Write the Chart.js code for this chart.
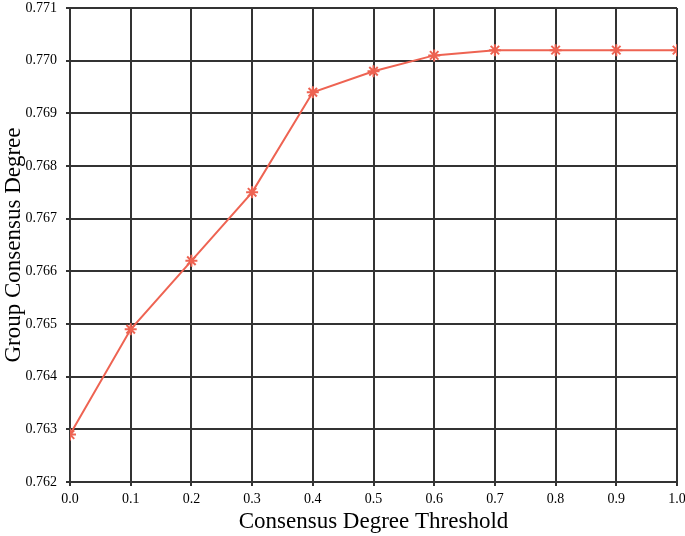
<!DOCTYPE html>
<html>
<head>
<meta charset="utf-8">
<script src="https://cdn.jsdelivr.net/npm/chart.js@4"></script>
<style>
  html, body { margin: 0; padding: 0; background: #fff; }
  #wrap { width: 685px; height: 536px; }
</style>
</head>
<body>
<div id="wrap"><canvas id="chart"></canvas></div>
<script>
const thresholds = [0.0, 0.1, 0.2, 0.3, 0.4, 0.5, 0.6, 0.7, 0.8, 0.9, 1.0];
const consensus = [0.7629, 0.7649, 0.7662, 0.7675, 0.7694, 0.7698, 0.7701, 0.7702, 0.7702, 0.7702, 0.7702];

const lineColor = "#ee6352";
const gridColor = "#333333";
const serif = "'Liberation Serif', 'Times New Roman', serif";

const points = thresholds.map((x, i) => ({ x, y: consensus[i] }));

// keep the plot box where the reference has it
function fixX(scale) {
  scale.height = 54;
  scale.paddingLeft = 0;
  scale.paddingRight = 0;
}
function fixY(scale) {
  scale.width = 70;
  scale.paddingTop = 0;
  scale.paddingBottom = 0;
}

new Chart(document.getElementById("chart").getContext("2d"), {
  type: "line",
  data: {
    datasets: [{
      data: points,
      borderColor: lineColor,
      backgroundColor: lineColor,
      borderWidth: 2,
      pointStyle: "star",
      pointRadius: 6,
      pointBorderWidth: 2,
      pointBorderColor: lineColor,
      tension: 0
    }]
  },
  options: {
    responsive: true,
    maintainAspectRatio: false,
    animation: false,
    layout: { padding: { left: 0, right: 8, top: 5, bottom: 0 } },
    plugins: { legend: { display: false }, tooltip: { enabled: false } },
    scales: {
      x: {
        type: "linear",
        min: 0, max: 1,
        afterFit: fixX,
        ticks: {
          stepSize: 0.1,
          color: "#000",
          font: { family: serif, size: 14 },
          callback: v => v.toFixed(1),
          padding: 5
        },
        grid: { color: gridColor, lineWidth: 2, tickLength: 4 },
        border: { color: gridColor, width: 2 },
        title: {
          display: true,
          text: "Consensus Degree Threshold",
          color: "#000",
          font: { family: serif, size: 23 },
          padding: { top: 0, bottom: 0 }
        }
      },
      y: {
        min: 0.762, max: 0.771,
        afterFit: fixY,
        ticks: {
          stepSize: 0.001,
          color: "#000",
          font: { family: serif, size: 14 },
          callback: v => v.toFixed(3),
          padding: 9
        },
        grid: { color: gridColor, lineWidth: 2, tickLength: 4 },
        border: { color: gridColor, width: 2 },
        title: {
          display: true,
          text: "Group Consensus Degree",
          color: "#000",
          font: { family: serif, size: 23 },
          padding: { top: 0, bottom: 0 }
        }
      }
    }
  }
});
</script>
</body>
</html>
